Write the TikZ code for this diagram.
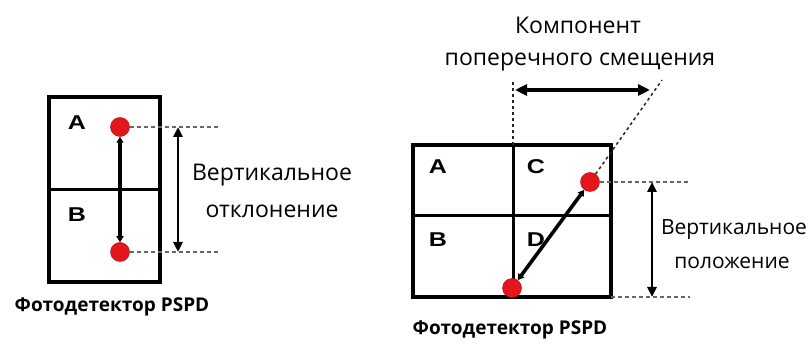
\documentclass[tikz,border=0pt]{standalone}
\usepackage{fontspec}
\setmainfont{Open Sans}
\newfontfamily\lblfont{Liberation Sans}
\usetikzlibrary{arrows.meta}
\definecolor{dotred}{HTML}{E3161C}
\newcommand{\qlabel}[1]{\scalebox{1.25}[1]{#1}}
\begin{document}
\begin{tikzpicture}[x=1pt,y=-1pt,
  box/.style={draw=black,line width=4.4pt},
  divider/.style={draw=black,line width=3pt},
  dot/.style={circle,fill=dotred,draw=dotred!80!black,line width=0.5pt,minimum size=19pt,inner sep=0pt},
  guide/.style={draw=black!60,line width=1.3pt,dash pattern=on 4pt off 3pt},
  vguide/.style={draw=black!85,line width=1.5pt,dash pattern=on 3pt off 3pt},
  quad/.style={font=\lblfont\bfseries\fontsize{20}{20}\selectfont},
  captext/.style={font=\fontsize{21}{21}\selectfont,align=center},
  bigcap/.style={font=\fontsize{23}{23}\selectfont,align=center},
  titletext/.style={font=\bfseries\fontsize{19}{19}\selectfont},
  dimarrow/.style={line width=2.5pt,{Triangle[length=10pt,width=9pt]}-{Triangle[length=10pt,width=9pt]}},
  harrow/.style={line width=3.2pt,{Triangle[length=12pt,width=11pt]}-{Triangle[length=12pt,width=11pt]}},
  vecarrow/.style={line width=3.6pt,{Triangle[length=6pt,width=7pt]}-{Triangle[length=6pt,width=7pt]}}
]
\useasboundingbox (0,0) rectangle (808,344);
% ---------- left figure ----------
\draw[box] (49,97) rectangle (160,282);
\draw[divider] (49,190) -- (160,190);
\node[quad] (la) at (77,123) {\qlabel{A}};
\node[quad] (lb) at (77,215) {\qlabel{B}};
\node[dot] (ltop) at (120,127) {};
\node[dot] (lbot) at (120,252) {};
\coordinate (lgt) at (218,127);
\coordinate (lgb) at (218,252);
\draw[guide] (ltop.east) -- (lgt);
\draw[guide] (lbot.east) -- (lgb);
\draw[vecarrow] (ltop.south) -- (lbot.north);
\coordinate (lat) at (178,127);
\coordinate (lab) at (178,252);
\draw[dimarrow] (lat) -- (lab);
\node[bigcap] (lcap1) at (272,175) {Вертикальное};
\node[bigcap] (lcap2) at (272,211) {отклонение};
\node[titletext] (ltitle) at (112,307) {Фотодетектор PSPD};
% ---------- right figure ----------
\draw[box] (413,145) rectangle (611,297);
\draw[divider] (413,216) -- (611,216);
\draw[divider] (513,145) -- (513,297);
\node[quad] (ra) at (438,167) {\qlabel{A}};
\node[quad] (rc) at (536,167) {\qlabel{C}};
\node[quad] (rb) at (438,240) {\qlabel{B}};
\node[quad] (rd) at (536,240) {\qlabel{D}};
\node[dot] (rtop) at (590,182) {};
\node[dot] (rbot) at (512,288) {};
\coordinate (vtop) at (513,82);
\coordinate (dtop) at (662,80);
\coordinate (vbase) at (513,145);
\draw[vguide] (vbase) -- (vtop);
\draw[vguide] (rtop) -- (dtop);
\draw[vecarrow] (rbot) -- (rtop);
\coordinate (ha) at (515,90);
\coordinate (hb) at (650,90);
\draw[harrow] (ha) -- (hb);
\coordinate (rgt) at (690,182);
\coordinate (rgb) at (690,297);
\coordinate (rgbase) at (611,297);
\draw[guide] (rtop.east) -- (rgt);
\draw[guide] (rgbase) -- (rgb);
\coordinate (rat) at (652,182);
\coordinate (rab) at (652,297);
\draw[dimarrow] (rat) -- (rab);
\node[bigcap] (rcap1) at (578,25) {Компонент};
\node[bigcap] (rcap2) at (580,62) {поперечного смещения};
\node[captext] (rcap3) at (734,230) {Вертикальное};
\node[captext] (rcap4) at (732,263) {положение};
\node[titletext] (rtitle) at (510,330) {Фотодетектор PSPD};
\end{tikzpicture}
\end{document}
